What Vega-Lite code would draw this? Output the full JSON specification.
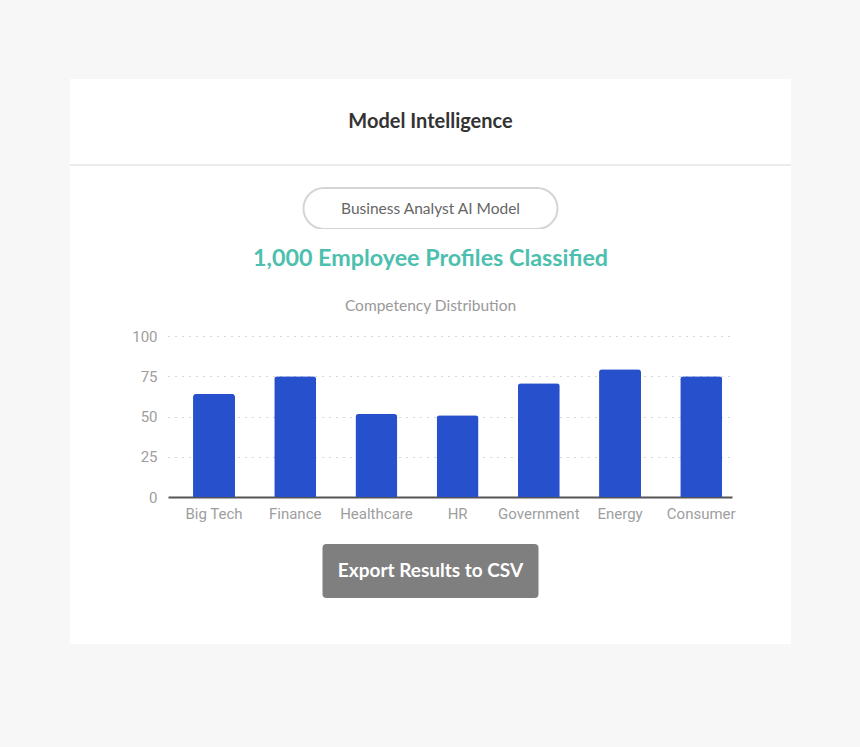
{
  "$schema": "https://vega.github.io/schema/vega-lite/v6.json",
  "background": "#f7f7f7",
  "padding": {"left": 70, "top": 79, "right": 69, "bottom": 103},
  "spacing": 0,
  "bounds": "flush",
  "center": true,
  "config": {"view": {"stroke": null, "fill": "#ffffff"}, "font": "Lato"},
  "vconcat": [
    {"width": 721, "height": 85, "view": {"fill": "#ffffff", "stroke": null}, "data": {"values": [{"t": "Model Intelligence"}]}, "mark": {"type": "text", "font": "Lato", "fontSize": 20, "fontWeight": "bold", "color": "#333333"}, "encoding": {"text": {"field": "t"}}},
    {"width": 721, "height": 2, "data": {"values": []}, "mark": "rect", "encoding": {}, "view": {"fill": "#ebebeb", "stroke": null}},
    {"width": 721, "height": 22, "view": {"fill": "#ffffff", "stroke": null}, "data": {"values": []}, "mark": "rect", "encoding": {}},
    {
      "width": 721, "height": 41,
      "view": {"fill": "#ffffff", "stroke": null},
      "data": {"values": [{"t": "Business Analyst AI Model"}]},
      "layer": [
        {"mark": {"type": "point", "shape": "M -0.8386 -0.1614 L 0.8386 -0.1614 A 0.1614 0.1614 0 0 1 0.8386 0.1614 L -0.8386 0.1614 A 0.1614 0.1614 0 0 1 -0.8386 -0.1614 Z", "size": 64516, "filled": false, "stroke": "#d5d5d5", "strokeWidth": 2, "opacity": 1}, "encoding": {}},
        {"mark": {"type": "text", "font": "Lato", "fontSize": 15.5, "color": "#666666"}, "encoding": {"text": {"field": "t"}}}
      ]
    },
    {"width": 721, "height": 59, "view": {"fill": "#ffffff", "stroke": null}, "data": {"values": [{"t": "1,000 Employee Profiles Classified"}]}, "mark": {"type": "text", "font": "Lato", "fontSize": 23.3, "fontWeight": "bold", "color": "#4dbfae"}, "encoding": {"text": {"field": "t"}}},
    {"width": 721, "height": 36, "view": {"fill": "#ffffff", "stroke": null}, "data": {"values": [{"t": "Competency Distribution"}]}, "mark": {"type": "text", "font": "Lato", "fontSize": 15.5, "color": "#999999"}, "encoding": {"text": {"field": "t"}}},
    {"width": 721, "height": 12, "view": {"fill": "#ffffff", "stroke": null}, "data": {"values": []}, "mark": "rect", "encoding": {}},
    {
      "width": 721,
      "height": 208,
      "view": {"fill": "#ffffff", "stroke": null},
      "data": {"values": [
        {"sector": "Big Tech", "score": 64},
        {"sector": "Finance", "score": 75},
        {"sector": "Healthcare", "score": 51.5},
        {"sector": "HR", "score": 50.7},
        {"sector": "Government", "score": 70.7},
        {"sector": "Energy", "score": 79.3},
        {"sector": "Consumer", "score": 75}
      ]},
      "mark": {"type": "bar", "color": "#2750cc", "cornerRadiusTopLeft": 3, "cornerRadiusTopRight": 3, "width": {"band": 0.588}},
      "encoding": {
        "x": {"field": "sector", "type": "nominal", "sort": null,
          "scale": {"paddingInner": 0.121, "paddingOuter": 1, "align": 0.667},
          "axis": {"title": null, "offset": -47, "labelAngle": 0, "labelFont": "Roboto", "labelFontSize": 15, "labelColor": "#9e9e9e", "ticks": false, "domain": false, "labelPadding": 9, "labelOverlap": false, "labelLimit": 0}},
        "y": {"field": "score", "type": "quantitative",
          "scale": {"domain": [-29.19, 100], "nice": false, "zero": false},
          "axis": {"title": null, "values": [0, 25, 50, 75, 100], "offset": -98, "domain": false, "grid": false, "ticks": true,
            "tickSize": -564,
            "tickColor": {"condition": {"test": "datum.value === 0", "value": "#555555"}, "value": "#a9b3bd"},
            "tickWidth": {"condition": {"test": "datum.value === 0", "value": 2}, "value": 1},
            "tickDash": {"condition": {"test": "datum.value === 0", "value": []}, "value": [1, 6]},
            "labelFont": "Roboto", "labelFontSize": 15, "labelColor": "#9e9e9e", "labelPadding": 575}}
      }
    },
    {
      "width": 721, "height": 54,
      "view": {"fill": "#ffffff", "stroke": null},
      "data": {"values": [{"t": "Export Results to CSV"}]},
      "layer": [
        {"mark": {"type": "point", "shape": "M -0.963 -0.25 L 0.963 -0.25 Q 1 -0.25 1 -0.213 L 1 0.213 Q 1 0.25 0.963 0.25 L -0.963 0.25 Q -1 0.25 -1 0.213 L -1 -0.213 Q -1 -0.25 -0.963 -0.25 Z", "size": 46656, "filled": true, "color": "#7f7f7f", "strokeWidth": 0, "opacity": 1}, "encoding": {}},
        {"mark": {"type": "text", "font": "Lato", "fontSize": 19, "fontWeight": "bold", "color": "#ffffff"}, "encoding": {"text": {"field": "t"}}}
      ]
    },
    {"width": 721, "height": 46, "view": {"fill": "#ffffff", "stroke": null}, "data": {"values": []}, "mark": "rect", "encoding": {}}
  ]
}
